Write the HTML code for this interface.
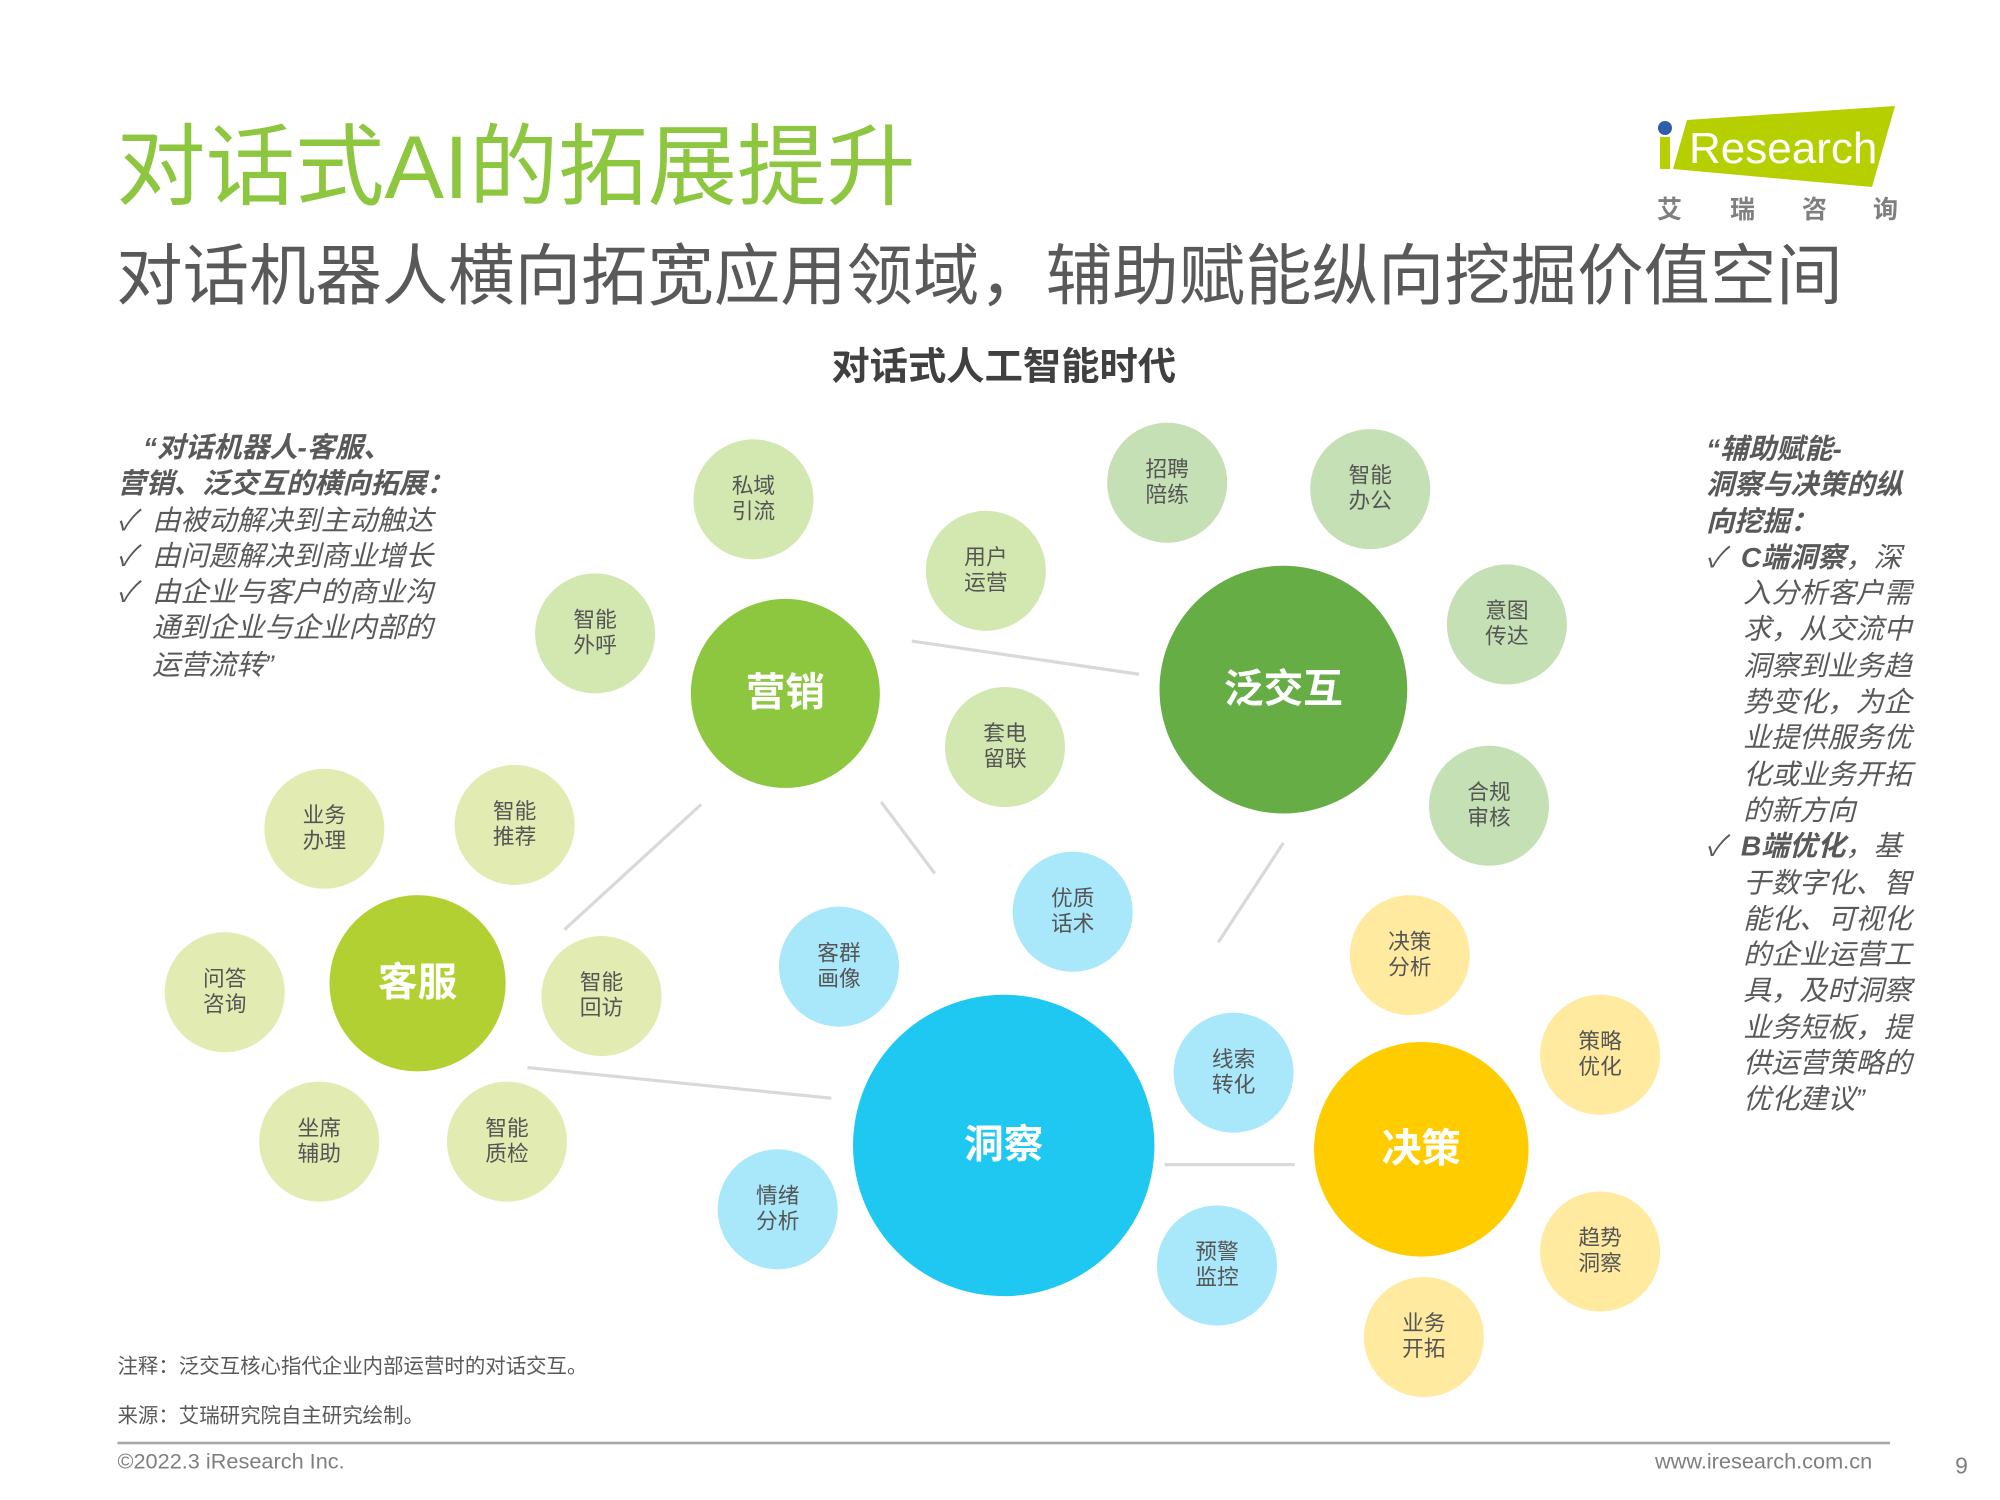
<!DOCTYPE html>
<html><head><meta charset="utf-8">
<style>
html,body{margin:0;padding:0;background:#fff;}
body{width:2000px;height:1500px;position:relative;overflow:hidden;font-family:"Liberation Sans","Noto Sans CJK SC",sans-serif;}
#stage{position:absolute;left:0;top:0;width:1566px;height:1175px;transform:scale(1.277);transform-origin:0 0;}
.abs{position:absolute;white-space:nowrap;}
.c{position:absolute;border-radius:50%;display:flex;align-items:center;justify-content:center;text-align:center;color:#555;font-size:17px;line-height:20px;}
.big{color:#fff;font-weight:bold;font-size:31px;}
.g1{background:#d3e8b0}.g2{background:#c5e0b4}.g3{background:#e2ecb2}.b1{background:#a9e7fa}.y1{background:#ffeaa0}
.txt{font-style:italic;color:#595959;font-size:22px;line-height:28.3px;}
</style></head><body>
<div id="stage">
<div class="abs" style="left:91px;top:88px;font-size:70px;color:#8dc63f;line-height:86px;">对话式AI的拓展提升</div>
<div class="abs" style="left:91px;top:184px;font-size:52px;color:#595959;line-height:66px;">对话机器人横向拓宽应用领域，辅助赋能纵向挖掘价值空间</div>
<div class="abs" style="left:651px;top:270px;font-size:30px;font-weight:bold;color:#404040;line-height:36px;">对话式人工智能时代</div>

<div class="abs txt" style="left:92px;top:337px;">
<div style="font-weight:bold;padding-left:20px;">“对话机器人-客服、</div>
<div style="font-weight:bold;">营销、泛交互的横向拓展：</div>
<div>✓&nbsp;&nbsp;由被动解决到主动触达</div>
<div>✓&nbsp;&nbsp;由问题解决到商业增长</div>
<div>✓&nbsp;&nbsp;由企业与客户的商业沟</div>
<div style="padding-left:27px;">通到企业与企业内部的</div>
<div style="padding-left:27px;">运营流转”</div>
</div>

<div class="abs txt" style="left:1336px;top:338px;">
<div style="font-weight:bold;">“辅助赋能-</div>
<div style="font-weight:bold;">洞察与决策的纵</div>
<div style="font-weight:bold;">向挖掘：</div>
<div>✓&nbsp;&nbsp;<b>C端洞察</b>，深</div>
<div style="padding-left:29px;">入分析客户需</div>
<div style="padding-left:29px;">求，从交流中</div>
<div style="padding-left:29px;">洞察到业务趋</div>
<div style="padding-left:29px;">势变化，为企</div>
<div style="padding-left:29px;">业提供服务优</div>
<div style="padding-left:29px;">化或业务开拓</div>
<div style="padding-left:29px;">的新方向</div>
<div>✓&nbsp;&nbsp;<b>B端优化</b>，基</div>
<div style="padding-left:29px;">于数字化、智</div>
<div style="padding-left:29px;">能化、可视化</div>
<div style="padding-left:29px;">的企业运营工</div>
<div style="padding-left:29px;">具，及时洞察</div>
<div style="padding-left:29px;">业务短板，提</div>
<div style="padding-left:29px;">供运营策略的</div>
<div style="padding-left:29px;">优化建议”</div>
</div>

<svg class="abs" style="left:0;top:0;" width="1555" height="1166">
<g stroke="#d9d9d9" stroke-width="2.5">
<line x1="714" y1="502" x2="892" y2="528"/>
<line x1="549" y1="630" x2="442" y2="728"/>
<line x1="690" y1="628" x2="732" y2="684"/>
<line x1="1005" y1="660" x2="954" y2="738"/>
<line x1="413" y1="836" x2="651" y2="860"/>
<line x1="912" y1="912" x2="1014" y2="912"/>
</g></svg>

<div class="c big" style="left:541px;top:469px;width:148px;height:148px;background:#8dc63f;">营销</div>
<div class="c big" style="left:908px;top:443px;width:194px;height:194px;background:#67ad46;">泛交互</div>
<div class="c big" style="left:258px;top:701px;width:138px;height:138px;background:#b3d033;">客服</div>
<div class="c big" style="left:668px;top:779px;width:236px;height:236px;background:#1fc8f0;">洞察</div>
<div class="c big" style="left:1029px;top:816px;width:168px;height:168px;background:#ffcc00;">决策</div>

<div class="c g1" style="left:543px;top:344px;width:94px;height:94px;">私域<br>引流</div>
<div class="c g2" style="left:867px;top:331px;width:94px;height:94px;">招聘<br>陪练</div>
<div class="c g2" style="left:1026px;top:336px;width:94px;height:94px;">智能<br>办公</div>
<div class="c g1" style="left:725px;top:400px;width:94px;height:94px;">用户<br>运营</div>
<div class="c g2" style="left:1133px;top:442px;width:94px;height:94px;">意图<br>传达</div>
<div class="c g1" style="left:419px;top:449px;width:94px;height:94px;">智能<br>外呼</div>
<div class="c g1" style="left:740px;top:538px;width:94px;height:94px;">套电<br>留联</div>
<div class="c g2" style="left:1119px;top:584px;width:94px;height:94px;">合规<br>审核</div>
<div class="c g3" style="left:207px;top:602px;width:94px;height:94px;">业务<br>办理</div>
<div class="c g3" style="left:356px;top:599px;width:94px;height:94px;">智能<br>推荐</div>
<div class="c g3" style="left:129px;top:730px;width:94px;height:94px;">问答<br>咨询</div>
<div class="c g3" style="left:424px;top:733px;width:94px;height:94px;">智能<br>回访</div>
<div class="c g3" style="left:203px;top:847px;width:94px;height:94px;">坐席<br>辅助</div>
<div class="c g3" style="left:350px;top:847px;width:94px;height:94px;">智能<br>质检</div>
<div class="c b1" style="left:793px;top:667px;width:94px;height:94px;">优质<br>话术</div>
<div class="c b1" style="left:610px;top:710px;width:94px;height:94px;">客群<br>画像</div>
<div class="c b1" style="left:919px;top:793px;width:94px;height:94px;">线索<br>转化</div>
<div class="c b1" style="left:562px;top:900px;width:94px;height:94px;">情绪<br>分析</div>
<div class="c b1" style="left:906px;top:944px;width:94px;height:94px;">预警<br>监控</div>
<div class="c y1" style="left:1057px;top:701px;width:94px;height:94px;">决策<br>分析</div>
<div class="c y1" style="left:1206px;top:779px;width:94px;height:94px;">策略<br>优化</div>
<div class="c y1" style="left:1206px;top:933px;width:94px;height:94px;">趋势<br>洞察</div>
<div class="c y1" style="left:1068px;top:1000px;width:94px;height:94px;">业务<br>开拓</div>

<div class="abs" style="left:92px;top:1056px;font-size:16px;color:#595959;">注释：泛交互核心指代企业内部运营时的对话交互。</div>
<div class="abs" style="left:92px;top:1095px;font-size:16px;color:#595959;">来源：艾瑞研究院自主研究绘制。</div>
<div class="abs" style="left:92px;top:1129px;width:1388px;height:2px;background:#a6a6a6;"></div>
<div class="abs" style="left:92px;top:1135px;font-size:17px;color:#7f7f7f;">©2022.3 iResearch Inc.</div>
<div class="abs" style="left:1296px;top:1135px;font-size:17px;color:#7f7f7f;">www.iresearch.com.cn</div>
<div class="abs" style="left:1531px;top:1138px;font-size:18px;color:#7f7f7f;">9</div>
</div>

<svg class="abs" style="position:absolute;left:0;top:0;" width="2000" height="260">
<polygon points="1687,120 1895,106 1872,187 1673,169" fill="#b5cf00"/>
<rect x="1660" y="137" width="10" height="32" fill="#b5cf00"/>
<circle cx="1665" cy="128" r="7" fill="#2e5fa8"/>
<text x="1689" y="163" font-family="Liberation Sans, sans-serif" font-size="44" fill="#fff">Research</text>
<g font-family="Liberation Sans, Noto Sans CJK SC, sans-serif" font-size="25" fill="#7f7f7f" font-weight="bold">
<text x="1657" y="218">艾</text><text x="1730" y="218">瑞</text><text x="1802" y="218">咨</text><text x="1873" y="218">询</text>
</g></svg>
</body></html>
